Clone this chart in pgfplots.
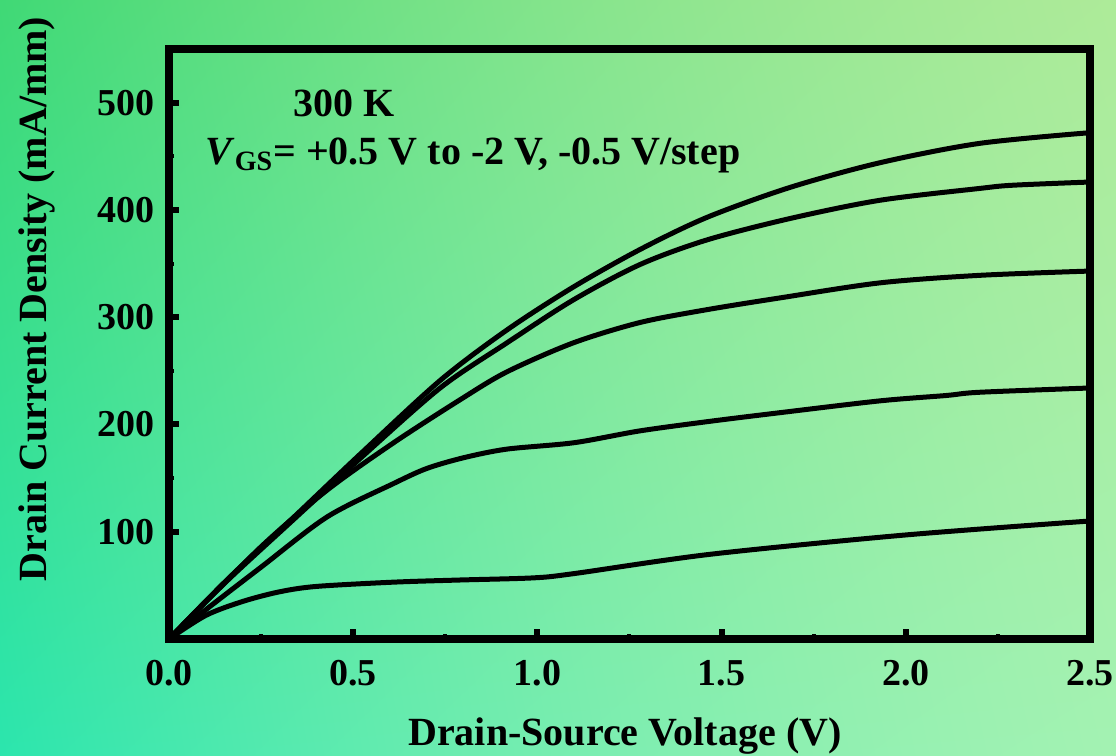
\documentclass[border=0pt]{standalone}
\usepackage{pgfplots}
\pgfplotsset{compat=1.18}
\usepackage{fontspec}
\setmainfont{Liberation Serif}

% background: corners BL, BR, TL, TR, with eased horizontal blend
\pgfdeclarefunctionalshading{bgshade}{\pgfpoint{0bp}{0bp}}{\pgfpoint{100bp}{100bp}}{}{
25 sub 50 div exch 25 sub 50 div dup dup mul -0.5 mul exch 1.5 mul add exch
2 copy mul
2 index 0.47 mul 2 index 0.08 mul add 1 index -0.04 mul add 0.17 add 4 1 roll
2 index 0.05 mul 2 index -0.05 mul add 1 index 0.02 mul add 0.90 add 4 1 roll
2 index 0.02 mul 2 index -0.22 mul add 1 index 0.12 mul add 0.68 add 4 1 roll
pop pop pop
}

\begin{document}
\begin{tikzpicture}
\shade[shading=bgshade] (-84.5pt,-58.5pt) rectangle (473.5pt,319.5pt);
\useasboundingbox (-84.5pt,-58.5pt) rectangle (473.5pt,319.5pt);
\begin{axis}[
  at={(0pt,0pt)}, anchor=south west,
  scale only axis, width=460.5pt, height=295pt,
  xmin=0, xmax=2.5, ymin=0, ymax=550,
  xtick={0,0.5,1,1.5,2,2.5}, ytick={100,200,300,400,500},
  minor x tick num=1, minor y tick num=1,
  tick pos=left, tick align=inside,
  major tick length=5pt, minor tick length=2.5pt,
  every major tick/.style={black, line width=3pt},
  every minor tick/.style={black, line width=2pt},
  axis line style={black, line width=4pt},
  /pgf/number format/assume math mode=true,
  xticklabel style={yshift=-7pt, /pgf/number format/.cd, fixed, fixed zerofill, precision=1},
  yticklabel style={xshift=-3.5pt},
  tick label style={font=\fontsize{19}{21}\selectfont\bfseries, black},
  xlabel={Drain-Source Voltage (V)},
  ylabel={Drain Current Density (mA/mm)},
  xlabel style={at={(axis description cs:0.495,-0.164)}, anchor=center, font=\fontsize{20}{24}\selectfont\bfseries},
  ylabel style={at={(axis description cs:-0.1433,0.576)}, anchor=center, font=\fontsize{20}{24}\selectfont\bfseries},
]
\addplot[black, line width=2.5pt, smooth] coordinates {(0,0) (0.157,55) (0.337,113) (0.518,172) (0.736,241) (0.917,288) (1.097,328) (1.278,363) (1.46,393) (1.686,421) (1.93,444) (2.20,462) (2.5,472)};
\addplot[black, line width=2.5pt, smooth] coordinates {(0,0) (0.157,54) (0.337,111) (0.518,168) (0.736,234) (0.917,276) (1.097,316) (1.278,349) (1.46,372) (1.686,392) (1.93,409) (2.20,420) (2.29,423) (2.5,426)};
\addplot[black, line width=2.5pt, smooth] coordinates {(0,0) (0.25,86) (0.43,139) (0.61,183) (0.79,223) (0.917,249) (1.097,276) (1.278,295) (1.46,307) (1.659,318) (1.93,332) (2.20,339) (2.5,343)};
\addplot[black, line width=2.5pt, smooth] coordinates {(0,0) (0.11,30) (0.25,67) (0.43,114) (0.61,145) (0.70,159) (0.80,169) (0.917,177) (1.10,183) (1.278,194) (1.47,203) (1.659,211) (1.93,222) (2.11,227) (2.20,230) (2.5,234)};
\addplot[black, line width=2.5pt, smooth] coordinates {(0,0) (0.1,22) (0.20,35) (0.30,44) (0.40,49) (0.61,53) (0.79,55) (0.99,57) (1.10,61) (1.47,79) (2.0,97) (2.5,110)};
\node[font=\fontsize{20}{24}\selectfont\bfseries] at (axis cs:0.475,499) {300 K};
\node[anchor=west, inner sep=0pt, font=\fontsize{20}{24}\selectfont\bfseries] at (axis cs:0.098,451) {\textit{V}\textsubscript{GS}= +0.5 V to -2 V, -0.5 V/step};
\end{axis}
\end{tikzpicture}
\end{document}
